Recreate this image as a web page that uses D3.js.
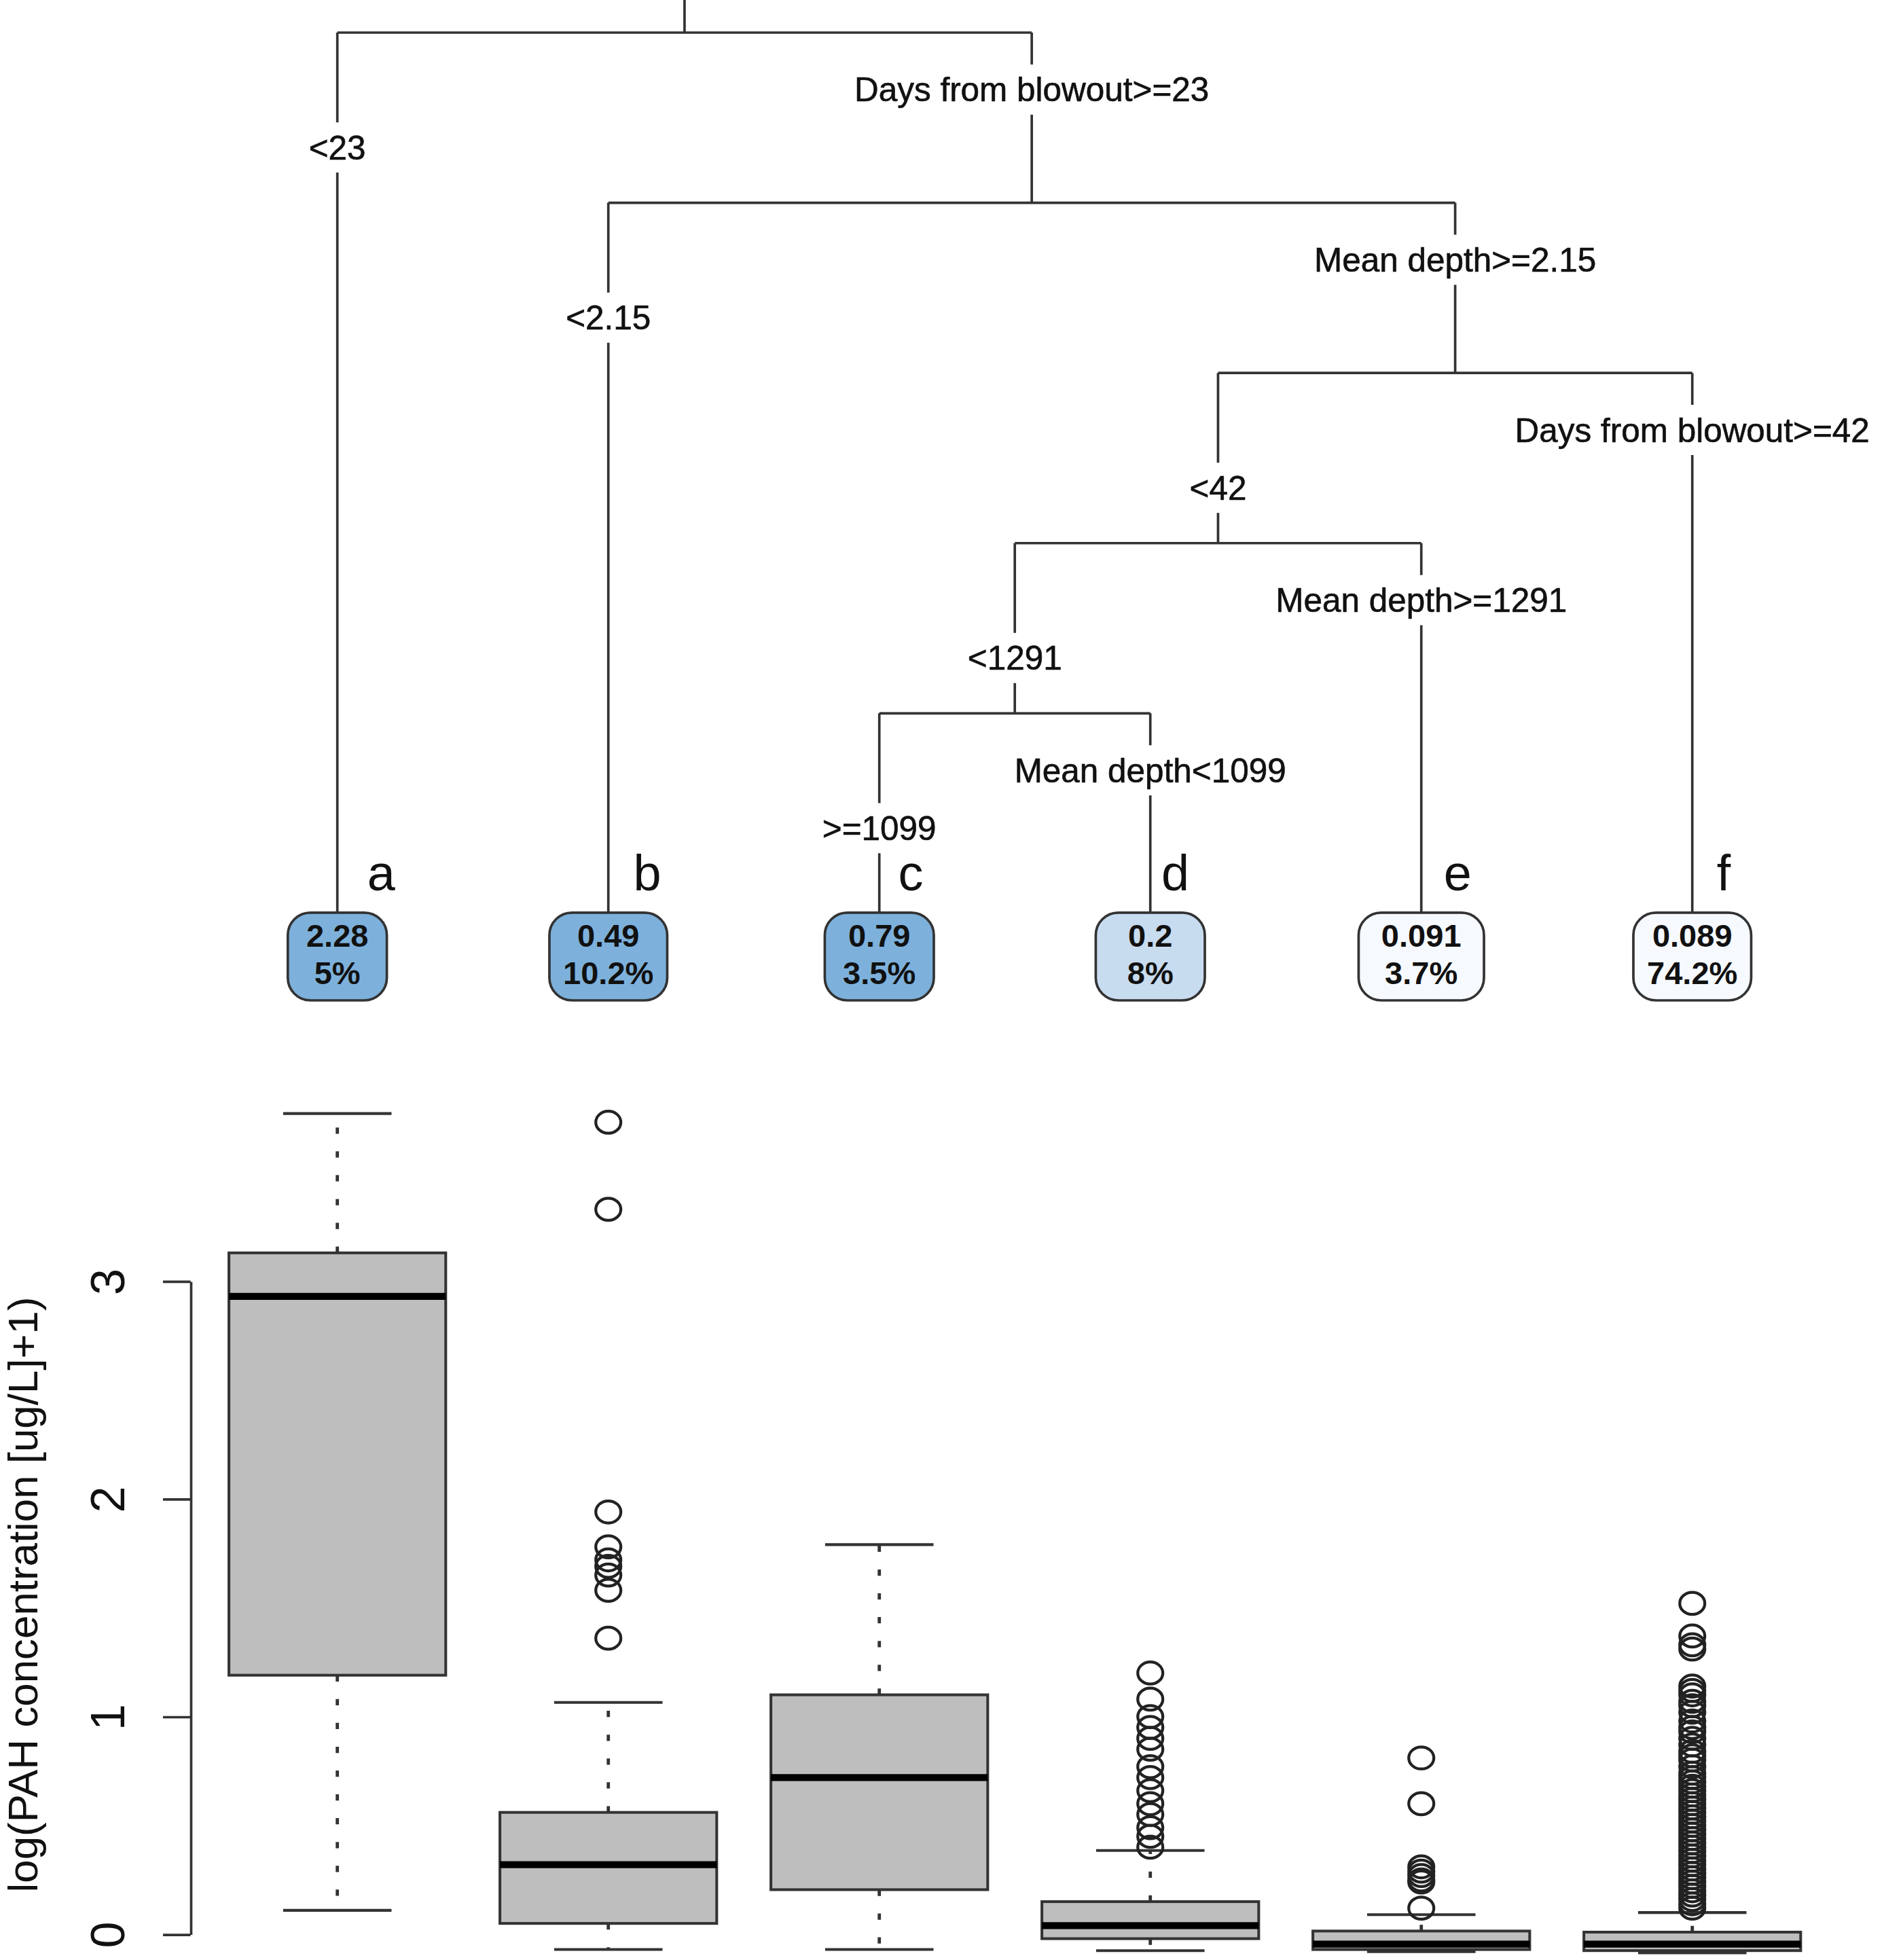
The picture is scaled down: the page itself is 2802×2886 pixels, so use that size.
<!DOCTYPE html>
<html>
<head>
<meta charset="utf-8">
<script src="https://cdn.jsdelivr.net/npm/d3@7"></script>
<style>
  html, body { margin: 0; padding: 0; background: #ffffff; }
  svg { display: block; }
  text { font-family: "Liberation Sans", Arial, Helvetica, sans-serif; fill: #111; }
</style>
</head>
<body>
<script>
// ---------------- DATA ----------------
// Leaves of the regression tree (left to right)
const leafIds      = ['a', 'b', 'c', 'd', 'e', 'f'];
const leafMeans    = ['2.28', '0.49', '0.79', '0.2', '0.091', '0.089'];
const leafPercents = ['5%', '10.2%', '3.5%', '8%', '3.7%', '74.2%'];

// Split labels of internal nodes (preorder): left branch / right branch
const splitLeftLabels  = ['<23', '<2.15', '<42', '<1291', '>=1099'];
const splitRightLabels = ['Days from blowout>=23', 'Mean depth>=2.15', 'Days from blowout>=42', 'Mean depth>=1291', 'Mean depth<1099'];

// Tree topology (split index / leaf index)
const treeStructure = {split: 0, children: [
  {leaf: 0},
  {split: 1, children: [
    {leaf: 1},
    {split: 2, children: [
      {split: 3, children: [
        {split: 4, children: [{leaf: 2}, {leaf: 3}]},
        {leaf: 4}
      ]},
      {leaf: 5}
    ]}
  ]}
]};

// Box plot statistics, log(PAH concentration [ug/L]+1), per leaf
const boxLower  = [0.11, -0.07, -0.07, -0.075, -0.08, -0.085];
const boxQ1     = [1.19, 0.05, 0.205, -0.02, -0.07, -0.075];
const boxMedian = [2.93, 0.32, 0.72, 0.04, -0.045, -0.045];
const boxQ3     = [3.13, 0.56, 1.10, 0.15, 0.015, 0.01];
const boxUpper  = [3.77, 1.065, 1.79, 0.385, 0.09, 0.10];
const boxOutliers = [
  [],
  [3.73, 3.33, 1.94, 1.78, 1.72, 1.69, 1.65, 1.58, 1.36],
  [],
  [1.20, 1.08, 1.00, 0.95, 0.90, 0.85, 0.77, 0.72, 0.66, 0.60, 0.55, 0.49, 0.45, 0.40],
  [0.81, 0.60, 0.31, 0.29, 0.27, 0.25, 0.24, 0.12],
  [1.52, 1.37, 1.33, 1.31, 1.14, 1.12, 1.10, 1.07, 1.05, 1.02, 0.98, 0.95, 0.93, 0.90,
   0.87, 0.84, 0.82, 0.80, 0.77, 0.74, 0.72, 0.70, 0.68, 0.66, 0.64, 0.62, 0.60, 0.58,
   0.56, 0.54, 0.52, 0.50, 0.48, 0.46, 0.44, 0.42, 0.40, 0.38, 0.36, 0.34, 0.32, 0.30,
   0.28, 0.26, 0.24, 0.22, 0.20, 0.18, 0.16, 0.14, 0.12]
];
const yTicks = [0, 1, 2, 3];
const yTitle = 'log(PAH concentration [ug/L]+1)';

// ---------------- STYLE / LAYOUT ----------------
const W = 1518, H = 1563.5;
const leafFill = ['#7db1dc', '#7db1dc', '#7db1dc', '#c8dcf0', '#f6faff', '#f6faff'];
const leafBoxW = [79, 94, 87, 87, 100, 94];
const letterDx = [35, 31, 25, 20, 29, 25];
const lineCol = '#333';

const svg = d3.select('body').append('svg')
  .attr('width', 2802).attr('height', 2886)
  .attr('viewBox', `0 0 ${W} ${H}`);

const x = d3.scaleBand().domain(leafIds).range([161, 1458]).paddingInner(0.2).paddingOuter(0.1);
const xc = id => x(id) + x.bandwidth() / 2;
const y = d3.scaleLinear().domain([0, 3]).range([1543, 1022]);

// ---------------- TREE ----------------
const levelTop = 26, levelGap = 135.75, leafTop = 728, leafH = 70;
const root = d3.hierarchy(treeStructure, d => d.children);
root.eachAfter(n => {
  if (n.data.leaf !== undefined) n.x = xc(leafIds[n.data.leaf]);
  else n.x = (n.children[0].x + n.children[1].x) / 2;
});
root.each(n => { n.yLev = levelTop + n.depth * levelGap; });

const gTree = svg.append('g');
gTree.append('line').attr('x1', root.x).attr('x2', root.x).attr('y1', 0).attr('y2', root.yLev)
  .attr('stroke', lineCol).attr('stroke-width', 2);

const labelLayer = [];
root.each(n => {
  if (!n.children) return;
  const [l, r] = n.children;
  gTree.append('line').attr('x1', l.x).attr('x2', r.x).attr('y1', n.yLev).attr('y2', n.yLev)
    .attr('stroke', lineCol).attr('stroke-width', 2);
  n.children.forEach((c, i) => {
    const yEnd = c.children ? c.yLev : leafTop;
    gTree.append('line').attr('x1', c.x).attr('x2', c.x).attr('y1', n.yLev).attr('y2', yEnd)
      .attr('stroke', lineCol).attr('stroke-width', 2);
    const txt = i === 0 ? splitLeftLabels[n.data.split] : splitRightLabels[n.data.split];
    const ly = n.yLev + (i === 0 ? 0.675 : 0.335) * levelGap;
    labelLayer.push({x: c.x, y: ly, t: txt});
  });
});

const gLab = svg.append('g');
labelLayer.forEach(d => {
  const g = gLab.append('g');
  const bg = g.append('rect').attr('fill', '#fff');
  const t = g.append('text').attr('x', d.x).attr('y', d.y).attr('text-anchor', 'middle')
    .attr('dominant-baseline', 'central').attr('font-size', 26.8)
    .attr('stroke', '#111').attr('stroke-width', 0.35).text(d.t);
  const bb = t.node().getBBox();
  bg.attr('x', bb.x - 4).attr('y', d.y - 20).attr('width', bb.width + 8).attr('height', 40);
});

// leaves
const gLeaf = svg.append('g');
leafIds.forEach((id, i) => {
  const cx = xc(id);
  const g = gLeaf.append('g');
  const w = leafBoxW[i];
  g.append('rect').attr('x', cx - w / 2).attr('y', leafTop).attr('width', w).attr('height', leafH)
    .attr('rx', 18).attr('ry', 18).attr('fill', leafFill[i]).attr('stroke', lineCol).attr('stroke-width', 2);
  g.append('text').attr('x', cx).attr('y', leafTop + 18).attr('text-anchor', 'middle')
    .attr('dominant-baseline', 'central').attr('font-size', 25.5).attr('font-weight', 'bold').text(leafMeans[i]);
  g.append('text').attr('x', cx).attr('y', leafTop + 48).attr('text-anchor', 'middle')
    .attr('dominant-baseline', 'central').attr('font-size', 25.5).attr('font-weight', 'bold').text(leafPercents[i]);
  g.append('text').attr('x', cx + letterDx[i]).attr('y', 710).attr('text-anchor', 'middle')
    .attr('font-size', 40).text(id);
});

// ---------------- BOX PLOT ----------------
const gBox = svg.append('g');
const bw = x.bandwidth();
leafIds.forEach((id, i) => {
  const cx = xc(id), x0 = x(id);
  const g = gBox.append('g');
  [[boxQ3[i], boxUpper[i]], [boxQ1[i], boxLower[i]]].forEach(([a, b]) => {
    g.append('line').attr('x1', cx).attr('x2', cx).attr('y1', y(a)).attr('y2', y(b))
      .attr('stroke', lineCol).attr('stroke-width', 2.6).attr('stroke-dasharray', '5,14');
    g.append('line').attr('x1', cx - bw / 4).attr('x2', cx + bw / 4).attr('y1', y(b)).attr('y2', y(b))
      .attr('stroke', lineCol).attr('stroke-width', 2.2);
  });
  g.append('rect').attr('x', x0).attr('width', bw).attr('y', y(boxQ3[i]))
    .attr('height', y(boxQ1[i]) - y(boxQ3[i])).attr('fill', '#bebebe')
    .attr('stroke', lineCol).attr('stroke-width', 2.2);
  g.append('line').attr('x1', x0).attr('x2', x0 + bw).attr('y1', y(boxMedian[i])).attr('y2', y(boxMedian[i]))
    .attr('stroke', '#000').attr('stroke-width', 5.5);
  g.selectAll('ellipse').data(boxOutliers[i]).join('ellipse')
    .attr('cx', cx).attr('cy', v => y(v)).attr('rx', 10).attr('ry', 8.8)
    .attr('fill', 'none').attr('stroke', '#222').attr('stroke-width', 2.3);
});

// y axis
const gAxis = svg.append('g').attr('transform', 'translate(152,0)')
  .call(d3.axisLeft(y).tickValues(yTicks).tickSize(22).tickSizeOuter(0).tickFormat(d3.format('d')));
gAxis.select('.domain').attr('stroke', lineCol).attr('stroke-width', 2);
gAxis.selectAll('.tick line').attr('stroke', lineCol).attr('stroke-width', 2);
gAxis.selectAll('.tick text')
  .attr('x', null).attr('dy', null)
  .attr('transform', 'translate(-66,0) rotate(-90)')
  .attr('text-anchor', 'middle').attr('dy', '0.35em')
  .attr('font-size', 38).attr('fill', '#111')
  .style('font-family', '"Liberation Sans", Arial, Helvetica, sans-serif');

svg.append('text')
  .attr('transform', 'translate(18,1272) rotate(-90)')
  .attr('text-anchor', 'middle').attr('dy', '0.35em').attr('font-size', 33.5)
  .text(yTitle);
</script>
</body>
</html>
